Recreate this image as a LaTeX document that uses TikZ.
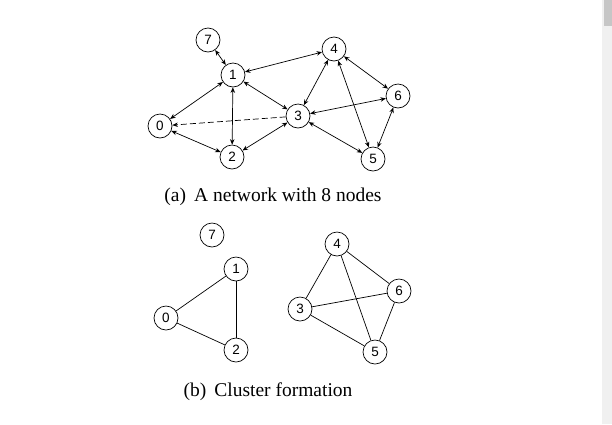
\documentclass[tikz,border=0pt]{standalone}
\usepackage{fontspec}
\setmainfont{Liberation Serif}
\newfontfamily\arialfont{Liberation Sans}
\usetikzlibrary{arrows.meta}
\usetikzlibrary{positioning}

\begin{document}
\begin{tikzpicture}[x=1pt,y=-1pt,>={Stealth[length=5.5pt,width=4.5pt]},
        vertex/.style={circle,draw,line width=0.7pt,minimum size=24pt,inner sep=0pt,font=\arialfont\fontsize{13.5}{13.5}\selectfont},
        every path/.style={line width=0.7pt}]
    \useasboundingbox (0,0) rectangle (612,424);
    % scroll bar
    \fill[gray!12] (602,0) rectangle (612,424);
    \fill[gray!45] (604,0) rectangle (612,26);
    % (a) the network
    \node[vertex] (a_7) at (208,40)  {7};
    \node[vertex] (a_1) at (233,75)  {1};
    \node[vertex] (a_4) at (334,49)  {4};
    \node[vertex] (a_6) at (398,96)  {6};
    \node[vertex] (a_3) at (298,116) {3};
    \node[vertex] (a_0) at (160,126) {0};
    \node[vertex] (a_2) at (232,157) {2};
    \node[vertex] (a_5) at (373,159) {5};
    \path[<->]
    (a_7) edge (a_1)
    (a_1) edge (a_4)
    (a_1) edge (a_3)
    (a_1) edge (a_0)
    (a_1) edge (a_2)
    (a_4) edge (a_3)
    (a_4) edge (a_6)
    (a_4) edge (a_5)
    (a_6) edge (a_3)
    (a_6) edge (a_5)
    (a_3) edge (a_2)
    (a_3) edge (a_5)
    (a_0) edge (a_2);
    \draw[->,dash pattern=on 6pt off 3pt] (a_3) -- (a_0);
    \node[font=\fontsize{19.5}{19.5}\selectfont] (cap_a) at (273,197) {(a)\, A network with 8 nodes};
    % (b) the clusters
    \node[vertex] (b_7) at (212,235) {7};
    \node[vertex] (b_1) at (236,269) {1};
    \node[vertex] (b_0) at (166,318) {0};
    \node[vertex] (b_2) at (236,350) {2};
    \node[vertex] (b_4) at (337,244) {4};
    \node[vertex] (b_6) at (399,291) {6};
    \node[vertex] (b_3) at (300,309) {3};
    \node[vertex] (b_5) at (375,352) {5};
    \path
    (b_0) edge (b_1)
    (b_0) edge (b_2)
    (b_1) edge (b_2)
    (b_4) edge (b_3)
    (b_4) edge (b_6)
    (b_4) edge (b_5)
    (b_3) edge (b_6)
    (b_3) edge (b_5)
    (b_6) edge (b_5);
    \node[font=\fontsize{19.5}{19.5}\selectfont] (cap_b) at (268,392) {(b)\, Cluster formation};
\end{tikzpicture}
\end{document}
